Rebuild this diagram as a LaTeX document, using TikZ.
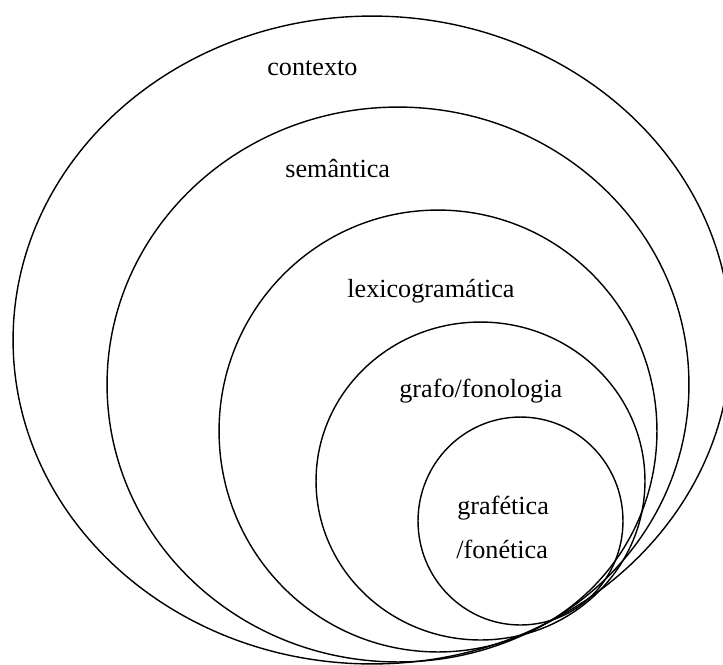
\documentclass[tikz,border=0pt]{standalone}
\usepackage{fontspec}
\setmainfont{Liberation Serif}
\usetikzlibrary{shapes.geometric}

\begin{document}
\begin{tikzpicture}[x=0.02cm, y=-0.02cm,
    ring/.style={ellipse, draw=black, line width=0.8pt, inner sep=0pt, outer sep=0pt},
    lbl/.style={anchor=base west, inner sep=0pt, font=\fontsize{14.9}{18}\selectfont},
]
\useasboundingbox (0,0) rectangle (723,664);
\clip (0,0) rectangle (723,664);

% Strata, outermost first
\node[ring, minimum width=14.36cm, minimum height=12.96cm] (ctx) at (372, 340) {};
\node[ring, minimum width=11.64cm, minimum height=11.10cm] (sem) at (398, 384.5) {};
\node[ring, minimum width=8.76cm, minimum height=8.84cm] (lex) at (438, 431) {};
\node[ring, minimum width=6.58cm, minimum height=6.36cm] (fon) at (480.5, 481) {};
\node[ring, minimum width=4.10cm, minimum height=4.16cm] (fnt) at (520.5, 521) {};

% Labels
\node[lbl] (ctxlbl) at (267, 75) {contexto};
\node[lbl] (semlbl) at (285, 177) {semântica};
\node[lbl] (lexlbl) at (347, 297) {lexicogramática};
\node[lbl] (fonlbl) at (399, 397) {grafo/fonologia};
\node[lbl] (fntlbl) at (457, 514) {grafética};
\node[lbl] (fntlbl2) at (456, 558) {/fonética};

\end{tikzpicture}
\end{document}
